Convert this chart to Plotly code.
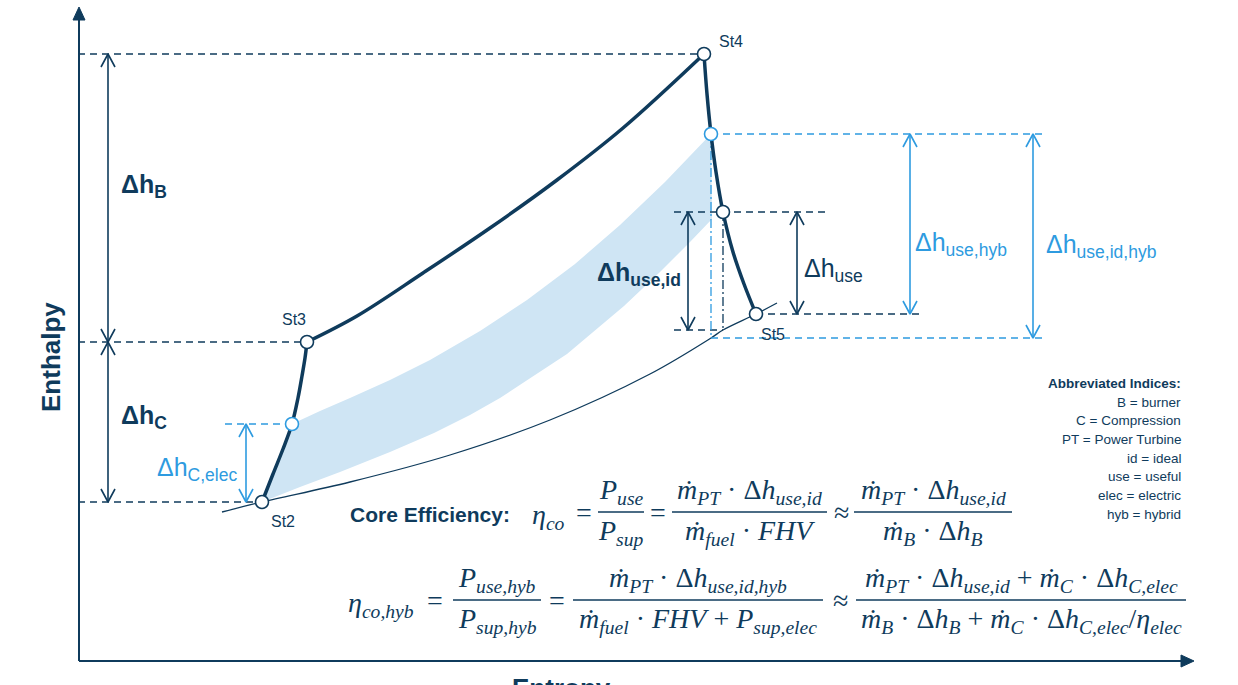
import plotly.graph_objects as go

W, H = 1238, 685
DARK = "#0f3b5c"
BLUE = "#2e9be0"
BAND = "#cfe5f4"
SANS = "Liberation Sans, Arial, sans-serif"
MATH = "Liberation Serif, Times New Roman, serif"

# ---- h-s diagram data (entropy s to the right, enthalpy h downward in drawing units) ----
st2 = (262, 502)
st3 = (307, 342)
st4 = (704, 54)
st5 = (756, 314)
st_c_elec = (292, 424)      # end of electrically supplied compression share
st_hyb = (711, 134)         # turbine state for hybrid useful work
st_use = (723, 212)         # turbine state for useful work
ideal_hyb = (711, 338)      # isentropic end state (hybrid)
ideal = (723, 330)          # isentropic end state

compression_s = [262, 273, 283, 292, 298, 302, 305, 307]
compression_h = [502, 474, 449, 424, 398, 376, 358, 342]
combustion_s = [307, 357, 423, 490, 557, 623, 704]
combustion_h = [342, 316, 273, 228, 180, 128, 54]
expansion_s = [704, 707, 711, 716, 723, 733, 744, 756]
expansion_h = [54, 94, 134, 172, 212, 252, 284, 314]
isobar_s = [222, 262, 350, 450, 550, 650, 711, 723, 756, 777]
isobar_h = [512, 502, 482, 455, 420, 374, 338, 330, 314, 303]
band_upper_s = [292, 320, 350, 390, 430, 480, 527, 575, 620, 665, 711]
band_upper_h = [424, 411, 398, 380, 360, 331, 300, 264, 225, 182, 134]
band_lower_s = [262, 300, 340, 390, 434, 470, 500, 535, 567, 597, 624, 660, 690, 712]
band_lower_h = [502, 487, 472, 452, 433, 415, 398, 375, 354, 329, 306, 272, 242, 219]

# enthalpy differences: (label, s position, h top, h bottom, colour, bold, label s, label h)
dh_arrows = [
    ("Δh<sub>B</sub>", 108, st4[1], st3[1], DARK, True, 119, 186),
    ("Δh<sub>C</sub>", 108, st3[1], st2[1], DARK, True, 119, 417),
    ("Δh<sub>C,elec</sub>", 246, st_c_elec[1], st2[1], BLUE, False, 155, 469),
    ("Δh<sub>use,id</sub>", 688, st_use[1], ideal[1], DARK, True, 595, 274),
    ("Δh<sub>use</sub>", 797, st_use[1], st5[1], DARK, False, 802, 270),
    ("Δh<sub>use,hyb</sub>", 910, st_hyb[1], st5[1], BLUE, False, 913, 244),
    ("Δh<sub>use,id,hyb</sub>", 1033, st_hyb[1], ideal_hyb[1], BLUE, False, 1044, 246),
]

# horizontal reference lines: (s start, s end, h, colour)
ref_lines = [
    (78, st4[0], st4[1], DARK),
    (78, st3[0], st3[1], DARK),
    (78, st2[0], st2[1], DARK),
    (225, st_c_elec[0], st_c_elec[1], BLUE),
    (st_hyb[0], 1045, st_hyb[1], BLUE),
    (ideal_hyb[0], 1045, ideal_hyb[1], BLUE),
    (674, 828, st_use[1], DARK),
    (674, ideal[0], ideal[1], DARK),
    (st5[0], 920, st5[1], DARK),
]

state_labels = [("St2", 283, 521), ("St3", 294, 319), ("St4", 731, 41), ("St5", 773, 334)]

legend_title = "Abbreviated Indices:"
legend_items = ["B = burner", "C = Compression", "PT = Power Turbine", "id = ideal",
                "use = useful", "elec = electric", "hyb = hybrid"]

fig = go.Figure()

# shaded band of ideal useful enthalpy
band_s = band_upper_s + band_lower_s[::-1] + compression_s[1:3]
band_h = band_upper_h + band_lower_h[::-1] + compression_h[1:3]
fig.add_trace(go.Scatter(x=band_s, y=band_h, fill="toself", fillcolor=BAND,
                         line=dict(width=0), mode="lines", hoverinfo="skip"))

# ambient isobar
fig.add_trace(go.Scatter(x=isobar_s, y=isobar_h, mode="lines", line=dict(color=DARK, width=1.3, shape="spline"),
                         hoverinfo="skip"))

# reference lines
for x0, x1, h, c in ref_lines:
    fig.add_trace(go.Scatter(x=[x0, x1], y=[h, h], mode="lines",
                             line=dict(color=c, width=1.5, dash="7px,5px"), hoverinfo="skip"))

# isentropic drops (dash-dot)
fig.add_trace(go.Scatter(x=[st_hyb[0], ideal_hyb[0]], y=[st_hyb[1], ideal_hyb[1]], mode="lines",
                         line=dict(color=BLUE, width=1.3, dash="9px,3px,2px,3px"), hoverinfo="skip"))
fig.add_trace(go.Scatter(x=[st_use[0], ideal[0]], y=[st_use[1], ideal[1]], mode="lines",
                         line=dict(color=DARK, width=1.3, dash="9px,3px,2px,3px"), hoverinfo="skip"))

# cycle processes
for s, h in [(compression_s, compression_h), (combustion_s, combustion_h), (expansion_s, expansion_h)]:
    fig.add_trace(go.Scatter(x=s, y=h, mode="lines", line=dict(color=DARK, width=3.5, shape="spline"),
                             hoverinfo="skip"))

# double-headed arrows
HW, HL = 7, 13
for label, x, h0, h1, c, bold, lx, ly in dh_arrows:
    xs = [x, x, None, x - HW, x, x + HW, None, x - HW, x, x + HW]
    ys = [h0, h1, None, h0 + HL, h0, h0 + HL, None, h1 - HL, h1, h1 - HL]
    fig.add_trace(go.Scatter(x=xs, y=ys, mode="lines", line=dict(color=c, width=1.6), hoverinfo="skip"))
    txt = f"<b>{label}</b>" if bold else label
    fig.add_annotation(x=lx, y=ly, text=txt, showarrow=False, xanchor="left", yanchor="middle",
                       font=dict(family=SANS, size=25, color=c))

# state markers
dark_pts = [st2, st3, st4, st5, st_use]
blue_pts = [st_c_elec, st_hyb]
fig.add_trace(go.Scatter(x=[p[0] for p in dark_pts], y=[p[1] for p in dark_pts], mode="markers",
                         marker=dict(size=13, color="white", line=dict(color=DARK, width=1.6)), hoverinfo="skip"))
fig.add_trace(go.Scatter(x=[p[0] for p in blue_pts], y=[p[1] for p in blue_pts], mode="markers",
                         marker=dict(size=13, color="white", line=dict(color=BLUE, width=1.6)), hoverinfo="skip"))

for t, x, y in state_labels:
    fig.add_annotation(x=x, y=y, text=t, showarrow=False, font=dict(family=SANS, size=16, color=DARK))

# coordinate axes with arrow heads
fig.add_trace(go.Scatter(x=[79, 79, None, 79, 1183], y=[661, 18, None, 661, 661], mode="lines",
                         line=dict(color=DARK, width=2), hoverinfo="skip"))
fig.add_trace(go.Scatter(x=[73, 79, 85, 73], y=[20, 7, 20, 20], mode="lines", fill="toself",
                         fillcolor=DARK, line=dict(color=DARK, width=1), hoverinfo="skip"))
fig.add_trace(go.Scatter(x=[1181, 1194, 1181, 1181], y=[655, 661, 667, 655], mode="lines", fill="toself",
                         fillcolor=DARK, line=dict(color=DARK, width=1), hoverinfo="skip"))

fig.add_annotation(x=51, y=357, text="<b>Enthalpy</b>", textangle=-90, showarrow=False,
                   font=dict(family=SANS, size=26, color=DARK))
fig.add_annotation(x=561 / W, y=(H - 671) / H, xref="paper", yref="paper", text="<b>Entropy</b>",
                   showarrow=False, yanchor="top", font=dict(family=SANS, size=26, color=DARK))

# index legend
fig.add_annotation(x=1183, y=383, text=f"<b>{legend_title}</b>", showarrow=False, xanchor="right",
                   font=dict(family=SANS, size=13.5, color=DARK))
for i, item in enumerate(legend_items):
    fig.add_annotation(x=1183, y=402 + i * 18.7, text=item, showarrow=False, xanchor="right",
                       font=dict(family=SANS, size=13.5, color=DARK))

# ---- efficiency equations ----
MS = 28


def math(x, y, text, anchor="center", yanchor="middle"):
    fig.add_annotation(x=x, y=y, text=text, showarrow=False, xanchor=anchor, yanchor=yanchor,
                       font=dict(family=MATH, size=MS, color=DARK))


def frac(x0, x1, bar_y, num, den):
    fig.add_shape(type="line", x0=x0, x1=x1, y0=bar_y, y1=bar_y, line=dict(color=DARK, width=1.6))
    xc = (x0 + x1) / 2
    math(xc, bar_y - 1, num, yanchor="bottom")
    math(xc, bar_y + 1, den, yanchor="top")


def sub(t):
    return f"<sub><i>{t}</i></sub>"


md = "<i>ṁ</i>"
fig.add_annotation(x=348, y=514, text="<b>Core Efficiency:</b>", showarrow=False, xanchor="left",
                   font=dict(family=SANS, size=21, color=DARK))

y1 = 512
math(548, y1 + 4, "<i>η</i>" + sub("co"))
math(584, y1, "=")
frac(598, 644, y1, "<i>P</i>" + sub("use"), "<i>P</i>" + sub("sup"))
math(658, y1, "=")
frac(672, 827, y1, md + sub("PT") + " · Δ<i>h</i>" + sub("use,id"), md + sub("fuel") + " · <i>FHV</i>")
math(841, y1, "≈")
frac(854, 1012, y1, md + sub("PT") + " · Δ<i>h</i>" + sub("use,id"), md + sub("B") + " · Δ<i>h</i>" + sub("B"))

y2 = 600
math(381, y2 + 4, "<i>η</i>" + sub("co,hyb"))
math(435, y2, "=")
frac(453, 541, y2, "<i>P</i>" + sub("use,hyb"), "<i>P</i>" + sub("sup,hyb"))
math(557, y2, "=")
frac(573, 823, y2, md + sub("PT") + " · Δ<i>h</i>" + sub("use,id,hyb"),
     md + sub("fuel") + " · <i>FHV</i> + <i>P</i>" + sub("sup,elec"))
math(840, y2, "≈")
frac(856, 1186, y2, md + sub("PT") + " · Δ<i>h</i>" + sub("use,id") + " + " + md + sub("C") + " · Δ<i>h</i>" + sub("C,elec"),
     md + sub("B") + " · Δ<i>h</i>" + sub("B") + " + " + md + sub("C") + " · Δ<i>h</i>" + sub("C,elec") + "/<i>η</i>" + sub("elec"))

fig.update_layout(
    width=W, height=H, margin=dict(l=0, r=0, t=0, b=0),
    paper_bgcolor="white", plot_bgcolor="white", showlegend=False,
    xaxis=dict(range=[0, W], visible=False, fixedrange=True),
    yaxis=dict(range=[H, 0], visible=False, fixedrange=True),
)

fig.write_html("out.html", config={"displayModeBar": False})
